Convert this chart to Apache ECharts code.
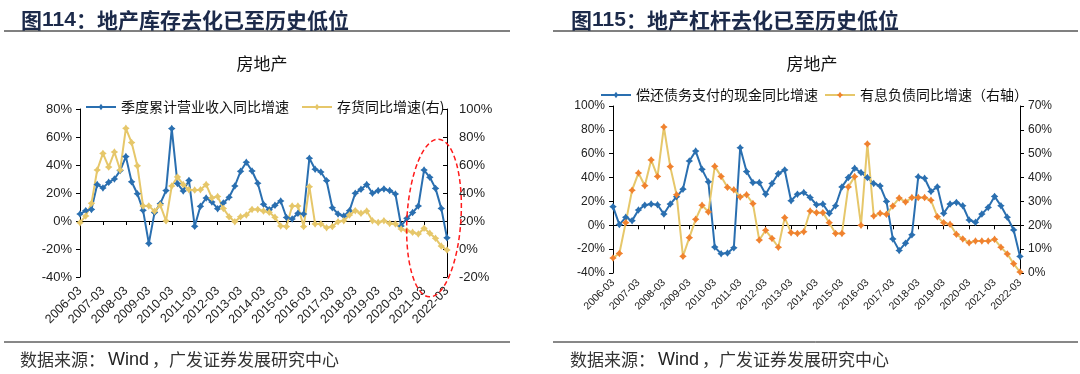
<!DOCTYPE html>
<html><head><meta charset="utf-8">
<script src="https://cdn.jsdelivr.net/npm/echarts@6/dist/echarts.min.js"></script>
<style>html,body{margin:0;padding:0;background:#fff}#c{width:1080px;height:374px}</style>
</head><body><div id="c"></div>
<script>
const categories = ["2006-03","2006-06","2006-09","2006-12","2007-03","2007-06","2007-09","2007-12","2008-03","2008-06","2008-09","2008-12","2009-03","2009-06","2009-09","2009-12","2010-03","2010-06","2010-09","2010-12","2011-03","2011-06","2011-09","2011-12","2012-03","2012-06","2012-09","2012-12","2013-03","2013-06","2013-09","2013-12","2014-03","2014-06","2014-09","2014-12","2015-03","2015-06","2015-09","2015-12","2016-03","2016-06","2016-09","2016-12","2017-03","2017-06","2017-09","2017-12","2018-03","2018-06","2018-09","2018-12","2019-03","2019-06","2019-09","2019-12","2020-03","2020-06","2020-09","2020-12","2021-03","2021-06","2021-09","2021-12","2022-03"];
// Fig 114 (left): cumulative revenue YoY (left axis, %), inventory YoY (right axis, %)
const revenueYoY = [5,7.4,8.3,26,23.6,27.6,30,36,46,28,19.5,7.6,-16,6,12.4,21.7,66,26.7,21.4,29,-3.8,10.5,16.4,13.6,8.8,12.9,17,25,35.5,42,35.7,27,12,8.1,11.2,14.3,2.5,1.4,5.5,5,44.8,37,35,28.8,9.5,5,3.6,7.4,19.8,22.6,26,19.8,21.7,22.9,21.7,19.3,-3.6,1.9,6,10.7,36.4,31.2,23.3,9,-12];
const inventoryYoY = [18.8,23.6,32.6,56.4,68.3,58.5,69.3,56.4,86.2,76,59.4,30.8,30.8,27,31.4,20.1,45,51.5,46,42.3,42.1,42.3,46,36.5,37.5,29,23,19.5,23,24.3,28.3,28.3,27.1,26.2,22.6,16.4,16,30.7,30.7,16,44.5,17.9,17.9,15.2,16,19.5,20.2,24.3,27.4,25.5,27.1,20.2,19,20.2,18.3,17.9,14.3,13.1,11.9,10.7,14.8,11.2,7.6,2.1,-0.7];
// Fig 115 (right): cash paid for debt repayment YoY (left axis), interest-bearing debt YoY (right axis)
const debtRepayYoY = [15.6,0.6,6.7,3.9,12.8,16.9,17.8,17.2,9.4,17.8,23.9,30.3,53.9,62.2,46.9,36.4,-18.3,-23.9,-23.3,-18.9,65,45,35.8,35.8,26.1,35,43.3,46.4,20.6,26.1,27.5,23.3,17.2,17.8,10,16.4,32.2,40,47.8,44.2,40,35,33,20,-11.4,-21.1,-15,-8,40.6,39.4,28.3,32.2,10,17.8,19.2,16.4,4.4,2.5,9.4,15,24.2,16.4,6.7,-3.9,-26.1];
const interestDebtYoY = [6.3,8.2,21.1,34.7,41.9,36.6,47.4,40.5,61.2,44.6,32.8,7,14.8,22.5,28.4,25.6,44.7,40.5,35.9,34.9,31.9,32.8,29.1,13.8,17.9,14.5,10.8,23.2,16.9,16.6,17.3,26,25.3,25.3,21.1,16.6,16.6,36.1,40.4,20,54.1,23.9,25,24.6,28.1,31.4,29.8,31.6,31.6,31.6,30.5,23.6,21.1,20.4,16.2,14.3,12.7,13.4,13.4,13.4,14.1,10.8,8,3.9,0.4];
const seriesNames = ["季度累计营业收入同比增速","存货同比增速(右)","偿还债务支付的现金同比增速","有息负债同比增速（右轴）"];
const titles = ["图114：地产库存去化已至历史低位","图115：地产杠杆去化已至历史低位"];
const subtitle = "房地产";
const sourceParts = ["数据来源：","Wind","，广发证券发展研究中心"];

const BLUE = '#2a6fb0', YELLOW = '#e6c76a', ORANGE = '#f0822f';
const CJK = '"Noto Sans CJK SC", "Noto Sans", sans-serif';
const LAT = '"Liberation Sans", Arial, sans-serif';
const mark = 'path://M0,-1 L0.42,-0.42 L1,0 L0.42,0.42 L0,1 L-0.42,0.42 L-1,0 L-0.42,-0.42 Z';

function titleRich(t){
  const m = t.match(/^(图)(\d+)(.*)$/);
  return '{a|' + m[1] + '}{b|' + m[2] + '}{a|' + m[3] + '}';
}
const richT = {
  a:{fontFamily:CJK,fontSize:21,fontWeight:'bold',color:'#1c2a4a'},
  b:{fontFamily:LAT,fontSize:21,fontWeight:'bold',color:'#1c2a4a'}
};
const richS = {
  a:{fontFamily:CJK,fontSize:17,fontWeight:'normal',color:'#333'},
  b:{fontFamily:LAT,fontSize:18,fontWeight:'normal',color:'#222',padding:[0,3,0,3]}
};
const sourceRich = '{a|' + sourceParts[0] + '}{b|' + sourceParts[1] + '}{a|' + sourceParts[2] + '}';

function xAxes(grid, fontSize, margin){
  return [{
    gridIndex:grid,type:'category',data:categories,boundaryGap:false,
    axisLine:{show:true,onZero:true,onZeroAxisIndex:grid*2,lineStyle:{color:'#000',width:1}},
    axisTick:{show:true,interval:3,length:4,lineStyle:{color:'#000'}},
    axisLabel:{show:false},splitLine:{show:false}
  },{
    gridIndex:grid,type:'category',data:categories,boundaryGap:false,position:'bottom',
    axisLine:{show:false,onZero:false},axisTick:{show:false},
    axisLabel:{show:true,interval:3,rotate:45,fontSize:fontSize,fontFamily:LAT,color:'#222',margin:margin},
    splitLine:{show:false}
  }];
}
function yAx(grid,pos,min,max,interval,fs,margin,inside){
  return {gridIndex:grid,type:'value',position:pos,min:min,max:max,interval:interval,
    axisLine:{show:true,lineStyle:{color:'#000',width:1}},
    axisTick:{show:true,inside:!!inside,length:4,lineStyle:{color:'#000'}},
    splitLine:{show:false},
    axisLabel:{formatter:'{value}%',fontSize:fs,fontFamily:LAT,color:'#222',margin:margin}};
}
function lineSeries(name,xi,yi,data,lineColor,markColor){
  return {type:'line',name:name,xAxisIndex:xi,yAxisIndex:yi,data:data,
    symbol:mark,symbolSize:7.5,showSymbol:true,showAllSymbol:true,
    lineStyle:{color:lineColor,width:2},itemStyle:{color:markColor},emphasis:{disabled:true}};
}

const chart = echarts.init(document.getElementById('c'),null,{renderer:'canvas'});
chart.setOption({
  animation:false,
  backgroundColor:'#fff',
  title:[
    {text:titleRich(titles[0]),left:16,top:5,textStyle:{rich:richT}},
    {text:titleRich(titles[1]),left:566,top:5,textStyle:{rich:richT}},
    {text:subtitle,left:257,top:50,textAlign:'center',textStyle:{fontFamily:CJK,fontSize:17,fontWeight:'normal',color:'#111'}},
    {text:subtitle,left:807,top:50,textAlign:'center',textStyle:{fontFamily:CJK,fontSize:17,fontWeight:'normal',color:'#111'}},
    {text:sourceRich,left:15,top:346,textStyle:{fontWeight:'normal',rich:richS}},
    {text:sourceRich,left:565,top:346,textStyle:{fontWeight:'normal',rich:richS}}
  ],
  legend:[
    {data:[seriesNames[0],seriesNames[1]],left:80,top:95,itemWidth:30,itemHeight:8,itemGap:12,
      textStyle:{fontFamily:CJK,fontSize:14,color:'#111'}},
    {data:[seriesNames[2],seriesNames[3]],left:595,top:83,itemWidth:30,itemHeight:8,itemGap:6,
      textStyle:{fontFamily:CJK,fontSize:14,color:'#111'}}
  ],
  grid:[
    {left:80,top:109,width:367,height:168,containLabel:false},
    {left:613,top:106,width:407,height:167,containLabel:false}
  ],
  xAxis:[].concat(xAxes(0,12.5,12),xAxes(1,10.5,8)),
  yAxis:[
    yAx(0,'left',-40,80,20,13,8,false),
    yAx(0,'right',-20,100,20,13,12,true),
    yAx(1,'left',-40,100,20,12,8,false),
    yAx(1,'right',0,70,10,12,8,false)
  ],
  series:[
    lineSeries(seriesNames[0],0,0,revenueYoY,BLUE,BLUE),
    lineSeries(seriesNames[1],0,1,inventoryYoY,YELLOW,YELLOW),
    lineSeries(seriesNames[2],2,2,debtRepayYoY,BLUE,BLUE),
    lineSeries(seriesNames[3],2,3,interestDebtYoY,YELLOW,ORANGE)
  ],
  graphic:[
    {type:'line',shape:{x1:4,y1:31,x2:510,y2:31},style:{stroke:'#808080',lineWidth:2}},
    {type:'line',shape:{x1:553,y1:31,x2:1078,y2:31},style:{stroke:'#808080',lineWidth:2}},
    {type:'line',shape:{x1:4,y1:342,x2:510,y2:342},style:{stroke:'#111',lineWidth:1}},
    {type:'line',shape:{x1:553,y1:342,x2:1078,y2:342},style:{stroke:'#111',lineWidth:1}},
    {type:'ellipse',shape:{cx:0,cy:0,rx:27,ry:79},x:434,y:218,rotation:-0.06,
      style:{fill:'none',stroke:'#ff1a1a',lineWidth:1.5,lineDash:[5,3]},z:100}
  ]
});
</script></body></html>
